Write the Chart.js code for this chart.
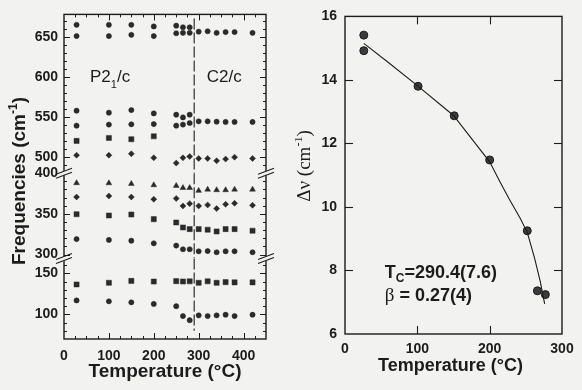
<!DOCTYPE html>
<html><head><meta charset="utf-8">
<script src="https://cdn.jsdelivr.net/npm/chart.js@4/dist/chart.umd.min.js"></script>
<style>
html,body{margin:0;padding:0;background:#f2f2f0;}
#wrap{position:relative;width:582px;height:390px;overflow:hidden;background:#f2f2f0;}
#c1{position:absolute;left:0;top:0;width:295px;height:390px;}
#c2{position:absolute;left:295px;top:0;width:287px;height:390px;}
</style></head><body>
<div id="wrap"><canvas id="c1" width="295" height="390"></canvas><canvas id="c2" width="287" height="390"></canvas></div>
<script>
const FONT = "'Liberation Sans', Arial, Helvetica, sans-serif";
const SERIF = "'Liberation Serif', 'Times New Roman', serif";
const INK = '#1c1c1c';
const BG = '#f2f2f0';

// ---------- Left panel: Raman frequencies vs temperature ----------
const tempsAll = [28, 100, 150, 200, 250, 265, 280, 300, 320, 340, 360, 380, 420];
const tempsLow = [28, 100, 150, 200, 250, 265, 280];
const tempsSq  = [28, 100, 150, 200];
const transitionT = 290;

// top segment (cm-1)
const modeA_circ = [665, 665, 665, 663, 664, 662, 662];                                   // tempsLow
const modeB_circ = [651, 651, 652.5, 651, 654.5, 655, 655, 656.5, 657, 655, 656, 656, 655]; // tempsAll
const modeC_circ = [558, 555.5, 558.7, 554.6, 553, 549.6, 553];                           // tempsLow
const modeD_circ = [539.3, 540.6, 541, 541.3, 539.3, 540.6, 542.6, 544.7, 544.7, 544.3, 543.9, 543.9, 543.9];
const modeE_sq   = [520.3, 524, 522.4, 526];                                              // tempsSq
const modeF_dia  = [502.5, 502.5, 504.2, 499.2, 492.6, 499.2, 500.9, 498.4, 498.4, 495.5, 497.6, 500, 498.4];
// middle segment
const modeG_tri  = [388, 387.8, 387, 385.4, 384.6, 382, 382, 378.5, 380, 379.3, 379.3, 380, 380];
const modeH_dia  = [370.7, 372, 370.7, 368, 369, 359.8, 362.6, 359.8, 361, 356.5, 361.8, 363, 360.6];
const modeI_sq   = [349.6, 348, 349.2, 343.5, 339.4, 333.3, 331.3, 331.3, 330.5, 328.4, 331.3, 331.3, 329.3];
const modeJ_circ = [319, 318, 317, 313.8, 311, 306.5, 306.5, 304, 304.3, 302.8, 304, 304, 302.8];
// bottom segment
const modeK_sq   = [136.5, 138.5, 140.8, 140, 140.5, 140.1, 140.3, 138.5, 140.3, 138.5, 139.3, 139, 139];
const modeL_circ = [117, 115.9, 114.7, 112.7, 110, 98, 92.9, 98.8, 98, 98.8, 99.6, 98, 99.6];

const freqTopRange = [480, 678];
const freqMidRange = [295, 400];
const freqBotRange = [70, 168];
const tempRangeL = [0, 450];

// ---------- Right panel: splitting vs temperature ----------
const dnT = [26, 26, 101, 151, 200, 252, 266, 277];
const dnV = [15.41, 14.92, 13.80, 12.87, 11.48, 9.25, 7.36, 7.24];
const fitT = [26, 60, 100, 150, 200, 214, 227, 242, 252, 262, 270, 276];
const fitV = [15.15, 14.55, 13.82, 12.88, 11.42, 10.8, 10.25, 9.65, 9.2, 8.4, 7.65, 6.95];

const pts = (xs, ys) => xs.map((x, i) => ({x: x, y: ys[i]}));

function drawRuns(ctx, runs, x, y, align) {
  let total = 0;
  for (const r of runs) { ctx.font = r.f; r.w = ctx.measureText(r.t).width; total += r.w; }
  let cx = align === 'center' ? x - total / 2 : x;
  for (const r of runs) { ctx.font = r.f; ctx.fillText(r.t, cx, y + (r.dy || 0)); cx += r.w; }
}
function line(ctx, x1, y1, x2, y2) { ctx.beginPath(); ctx.moveTo(x1, y1); ctx.lineTo(x2, y2); ctx.stroke(); }

function scat(xs, ys, axis, style, r) {
  return { type: 'scatter', data: pts(xs, ys), yAxisID: axis, pointStyle: style, pointRadius: r,
    backgroundColor: '#2a2a2a', borderColor: '#2a2a2a', borderWidth: 0.5, showLine: false };
}
function vline(axis, y1, y2) {
  return { type: 'line', data: [{x: transitionT, y: y1}, {x: transitionT, y: y2}], yAxisID: axis,
    borderColor: INK, borderWidth: 1.1, borderDash: [11, 3], pointRadius: 0, fill: false };
}
const tickFont = {family: FONT, size: 14, weight: 'bold'};
function yScale(range, weight, sw) {
  return { type: 'linear', position: 'left', stack: 'freq', stackWeight: sw, weight: weight,
    min: range[0], max: range[1],
    grid: {display: false, drawTicks: false}, border: {display: false},
    ticks: {stepSize: 10, autoSkip: false, includeBounds: false, padding: 6, color: INK, font: tickFont,
      callback: v => (v % 50 === 0 ? String(v) : '')},
    afterFit: s => { s.width = 64; } };
}

const leftPlugin = {
  id: 'leftDeco',
  afterDraw(chart) {
    const ctx = chart.ctx, a = chart.chartArea, xs = chart.scales.x;
    ctx.save();
    ctx.strokeStyle = INK; ctx.lineWidth = 1.4;
    ctx.strokeRect(a.left, a.top, a.width, a.height);
    ctx.lineWidth = 1;
    for (const id of ['yTop', 'yMid', 'yBot']) {
      const s = chart.scales[id];
      for (const t of s.ticks) {
        const v = t.value;
        if (v % 10 !== 0 || v === s.min || v === s.max) continue;
        const y = Math.round(s.getPixelForValue(v)) + 0.5;
        const L = v % 50 === 0 ? 6 : 3;
        line(ctx, a.left, y, a.left + L, y);
        line(ctx, a.right, y, a.right - L, y);
      }
    }
    for (const t of xs.ticks) {
      const v = t.value;
      if (v % 25 !== 0 || v === xs.min || v === xs.max) continue;
      const x = Math.round(xs.getPixelForValue(v)) + 0.5;
      const L = v % 100 === 0 ? 6 : 3;
      line(ctx, x, a.bottom, x, a.bottom - L);
      line(ctx, x, a.top, x, a.top + L);
    }
    // axis breaks
    const breaks = [chart.scales.yTop.bottom, chart.scales.yMid.bottom];
    for (const yb of breaks) {
      for (const xb of [a.left, a.right]) {
        ctx.strokeStyle = BG; ctx.lineWidth = 4;
        line(ctx, xb - 2, yb + 1, xb + 2, yb - 1);
        ctx.strokeStyle = INK; ctx.lineWidth = 1.1;
        line(ctx, xb - 8, yb + 1, xb + 8, yb - 5);
        line(ctx, xb - 8, yb + 5, xb + 8, yb - 1);
      }
    }
    // titles
    ctx.fillStyle = INK; ctx.textBaseline = 'alphabetic';
    drawRuns(ctx, [{t: 'Temperature (°C)', f: 'bold 19px ' + FONT}], (a.left + a.right) / 2, 377, 'center');
    ctx.save();
    ctx.translate(25, 181); ctx.rotate(-Math.PI / 2);
    drawRuns(ctx, [{t: 'Frequencies (cm', f: 'bold 19px ' + FONT}, {t: '-1', f: 'bold 12px ' + FONT, dy: -8},
      {t: ')', f: 'bold 19px ' + FONT}], 0, 0, 'center');
    ctx.restore();
    // phase labels
    const yT = chart.scales.yTop;
    const by = yT.getPixelForValue(594);
    drawRuns(ctx, [{t: 'P2', f: '17px ' + FONT}, {t: '1', f: '11px ' + FONT, dy: 6}, {t: '/c', f: '17px ' + FONT}],
      xs.getPixelForValue(58), by, 'left');
    drawRuns(ctx, [{t: 'C2/c', f: '17px ' + FONT}], xs.getPixelForValue(318), by, 'left');
    ctx.restore();
  }
};

new Chart(document.getElementById('c1'), {
  type: 'scatter',
  data: { datasets: [
    scat(tempsLow, modeA_circ, 'yTop', 'circle', 2.6),
    scat(tempsAll, modeB_circ, 'yTop', 'circle', 2.6),
    scat(tempsLow, modeC_circ, 'yTop', 'circle', 2.6),
    scat(tempsAll, modeD_circ, 'yTop', 'circle', 2.6),
    scat(tempsSq,  modeE_sq,   'yTop', 'rect', 3.6),
    scat(tempsAll, modeF_dia,  'yTop', 'rectRot', 3),
    scat(tempsAll, modeG_tri,  'yMid', 'triangle', 3.3),
    scat(tempsAll, modeH_dia,  'yMid', 'rectRot', 3),
    scat(tempsAll, modeI_sq,   'yMid', 'rect', 3.6),
    scat(tempsAll, modeJ_circ, 'yMid', 'circle', 2.6),
    scat(tempsAll, modeK_sq,   'yBot', 'rect', 3.6),
    scat(tempsAll, modeL_circ, 'yBot', 'circle', 2.6),
    vline('yTop', 673, freqTopRange[0]),
    vline('yMid', freqMidRange[1], freqMidRange[0]),
    vline('yBot', freqBotRange[1], 80)
  ]},
  options: {
    responsive: false, animation: false, devicePixelRatio: 1,
    layout: {padding: {top: 10, right: 29, left: 0, bottom: 0}},
    plugins: {legend: {display: false}, tooltip: {enabled: false}},
    scales: {
      x: { type: 'linear', min: tempRangeL[0], max: tempRangeL[1],
        grid: {display: false, drawTicks: false}, border: {display: false},
        ticks: {stepSize: 25, autoSkip: false, maxRotation: 0, padding: 9, color: INK, font: tickFont,
          callback: v => (v % 100 === 0 ? String(v) : '')},
        afterFit: s => { s.height = 51; } },
      yTop: yScale(freqTopRange, 3, 160),
      yMid: yScale(freqMidRange, 2, 86),
      yBot: yScale(freqBotRange, 1, 81)
    }
  },
  plugins: [leftPlugin]
});

// ---------- Right chart ----------
const rightPlugin = {
  id: 'rightDeco',
  afterDraw(chart) {
    const ctx = chart.ctx, a = chart.chartArea, xs = chart.scales.x, ys = chart.scales.y;
    ctx.save();
    ctx.strokeStyle = INK; ctx.lineWidth = 1.4;
    ctx.strokeRect(a.left, a.top, a.width, a.height);
    ctx.lineWidth = 1.1;
    for (const t of ys.ticks) {
      const v = t.value; if (v === ys.min || v === ys.max) continue;
      const y = Math.round(ys.getPixelForValue(v)) + 0.5;
      line(ctx, a.left, y, a.left + 8, y); line(ctx, a.right, y, a.right - 8, y);
    }
    for (const t of xs.ticks) {
      const v = t.value; if (v === xs.min || v === xs.max) continue;
      const x = Math.round(xs.getPixelForValue(v)) + 0.5;
      line(ctx, x, a.bottom, x, a.bottom - 8); line(ctx, x, a.top, x, a.top + 8);
    }
    ctx.fillStyle = INK; ctx.textBaseline = 'alphabetic';
    drawRuns(ctx, [{t: 'Temperature (°C)', f: 'bold 18px ' + FONT}], (a.left + a.right) / 2 - 3, 371, 'center');
    ctx.save();
    ctx.translate(15, 166); ctx.rotate(-Math.PI / 2);
    drawRuns(ctx, [{t: 'Δν (cm', f: '19px ' + SERIF}, {t: '-1', f: '12px ' + SERIF, dy: -8},
      {t: ')', f: '19px ' + SERIF}], 0, 0, 'center');
    ctx.restore();
    const x0 = xs.getPixelForValue(55);
    drawRuns(ctx, [{t: 'T', f: 'bold 18px ' + FONT}, {t: 'C', f: 'bold 12px ' + FONT, dy: 4},
      {t: '=290.4(7.6)', f: 'bold 18px ' + FONT}], x0, ys.getPixelForValue(7.77), 'left');
    drawRuns(ctx, [{t: 'β', f: '19px ' + SERIF}, {t: ' = 0.27(4)', f: 'bold 18px ' + FONT}],
      x0, ys.getPixelForValue(7.03), 'left');
    ctx.restore();
  }
};

new Chart(document.getElementById('c2'), {
  type: 'scatter',
  data: { datasets: [
    { type: 'line', data: pts(fitT, fitV), borderColor: INK, borderWidth: 1.1, pointRadius: 0, tension: 0, fill: false },
    { type: 'scatter', data: pts(dnT, dnV), pointRadius: 4, pointStyle: 'circle',
      backgroundColor: '#3c3c3c', borderColor: '#1a1a1a', borderWidth: 1 }
  ]},
  options: {
    responsive: false, animation: false, devicePixelRatio: 1,
    layout: {padding: {top: 11, right: 20, left: 0, bottom: 0}},
    plugins: {legend: {display: false}, tooltip: {enabled: false}},
    scales: {
      x: { type: 'linear', min: 0, max: 300,
        grid: {display: false, drawTicks: false}, border: {display: false},
        ticks: {stepSize: 100, autoSkip: false, maxRotation: 0, padding: 7, color: INK, font: tickFont},
        afterFit: s => { s.height = 56; } },
      y: { type: 'linear', min: 6, max: 16,
        grid: {display: false, drawTicks: false}, border: {display: false},
        ticks: {stepSize: 2, autoSkip: false, padding: 8, color: INK, font: tickFont},
        afterFit: s => { s.width = 50; } }
    }
  },
  plugins: [rightPlugin]
});
</script>
</body></html>
